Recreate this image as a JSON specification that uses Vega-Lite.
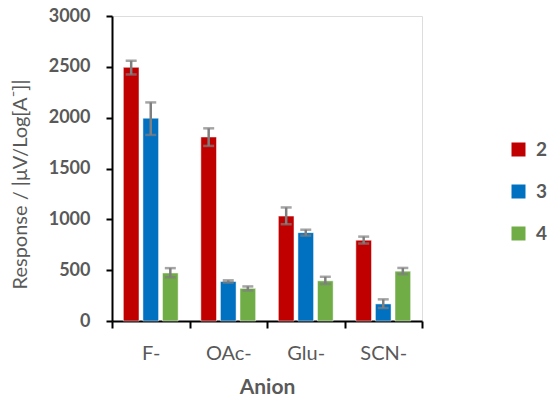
{
  "$schema": "https://vega.github.io/schema/vega-lite/v6.json",
  "autosize": "none",
  "width": 310,
  "height": 305,
  "padding": {"left": 112, "top": 16, "right": 128, "bottom": 86},
  "background": "white",
  "data": {
    "values": [
      {"anion": "F-", "series": "2", "value": 2495, "lo": 2425, "hi": 2560},
      {"anion": "F-", "series": "3", "value": 1995, "lo": 1830, "hi": 2150},
      {"anion": "F-", "series": "4", "value": 472, "lo": 430, "hi": 520},
      {"anion": "OAc-", "series": "2", "value": 1810, "lo": 1722, "hi": 1895},
      {"anion": "OAc-", "series": "3", "value": 388, "lo": 378, "hi": 400},
      {"anion": "OAc-", "series": "4", "value": 321, "lo": 300, "hi": 340},
      {"anion": "Glu-", "series": "2", "value": 1032, "lo": 952, "hi": 1117},
      {"anion": "Glu-", "series": "3", "value": 869, "lo": 840, "hi": 898},
      {"anion": "Glu-", "series": "4", "value": 395, "lo": 364, "hi": 435},
      {"anion": "SCN-", "series": "2", "value": 795, "lo": 762, "hi": 830},
      {"anion": "SCN-", "series": "3", "value": 168, "lo": 128, "hi": 213},
      {"anion": "SCN-", "series": "4", "value": 490, "lo": 460, "hi": 522}
    ]
  },
  "encoding": {
    "x": {
      "field": "anion", "type": "nominal", "sort": ["F-", "OAc-", "Glu-", "SCN-"],
      "scale": {"paddingInner": 0, "paddingOuter": 0},
      "axis": {
        "title": "Anion", "labelAngle": 0, "domainColor": "black", "domainWidth": 2,
        "tickColor": "black", "tickWidth": 2, "tickSize": 7, "tickBand": "extent",
        "labelFont": "Lato", "labelFontSize": 20, "labelColor": "#595959", "labelPadding": 15,
        "titleFont": "Lato", "titleFontSize": 21, "titleFontWeight": "bold", "titleColor": "#595959", "titlePadding": 13
      }
    },
    "xOffset": {
      "field": "series", "type": "nominal",
      "scale": {"paddingInner": 0.2, "paddingOuter": 0.58}
    }
  },
  "layer": [
    {
      "mark": {"type": "bar", "stroke": "white", "strokeWidth": 0.5},
      "encoding": {
        "y": {
          "field": "value", "type": "quantitative",
          "scale": {"domain": [0, 3000], "nice": false},
          "axis": {
            "title": "Response / |μV/Log[A⁻]|", "values": [0, 500, 1000, 1500, 2000, 2500, 3000], "format": "d",
            "grid": false, "domainColor": "black", "domainWidth": 2,
            "tickColor": "black", "tickWidth": 2, "tickSize": 6,
            "labelFont": "Lato", "labelFontSize": 18, "labelFontWeight": "bold", "labelColor": "#595959", "labelPadding": 16,
            "titleFont": "Lato", "titleFontSize": 20, "titleFontWeight": "normal", "titleColor": "#595959",
            "titleX": -92, "titleY": 168, "titleAlign": "center", "titleBaseline": "middle"
          }
        },
        "color": {
          "field": "series", "type": "nominal",
          "scale": {"domain": ["2", "3", "4"], "range": ["#C00000", "#0070C0", "#70AD47"]},
          "legend": {
            "title": null, "orient": "none", "legendX": 397, "legendY": 124,
            "symbolType": "square", "symbolSize": 196, "symbolStrokeWidth": 0,
            "labelFont": "Lato", "labelFontSize": 19, "labelFontWeight": "bold", "labelColor": "#595959",
            "rowPadding": 22, "padding": 0, "labelOffset": 8
          }
        }
      }
    },
    {
      "mark": {"type": "rule", "color": "#7F7F7F", "strokeWidth": 2.5},
      "encoding": {
        "y": {"field": "lo", "type": "quantitative"},
        "y2": {"field": "hi"}
      }
    },
    {
      "mark": {"type": "tick", "color": "#7F7F7F", "thickness": 2.5, "size": 11},
      "encoding": {"y": {"field": "lo", "type": "quantitative"}}
    },
    {
      "mark": {"type": "tick", "color": "#7F7F7F", "thickness": 2.5, "size": 11},
      "encoding": {"y": {"field": "hi", "type": "quantitative"}}
    }
  ]
}
